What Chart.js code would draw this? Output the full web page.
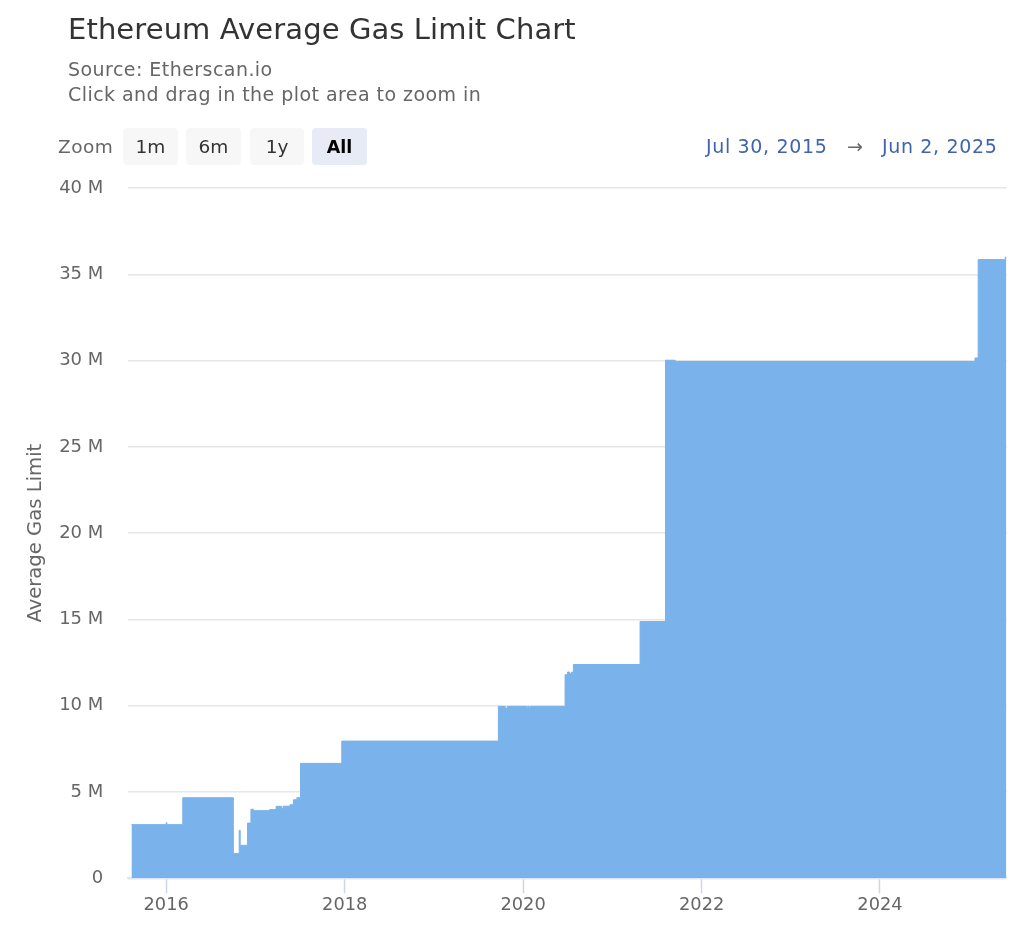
<!DOCTYPE html>
<html>
<head>
<meta charset="utf-8">
<title>Ethereum Average Gas Limit Chart</title>
<script src="https://cdn.jsdelivr.net/npm/chart.js@4"></script>
<style>
  html, body { margin:0; padding:0; background:#fff; }
  body { width:1024px; height:939px; position:relative; overflow:hidden;
         font-family:"DejaVu Sans",sans-serif; color:#666; }
  canvas { position:absolute; left:0; top:0; }
  .t { position:absolute; white-space:nowrap; line-height:1; }
  #title { left:68px; top:15px; font-size:29px; letter-spacing:.1px; color:#333; }
  #src { left:68px; top:60px; font-size:19px; letter-spacing:.45px; }
  #hint { left:68px; top:85px; font-size:19px; letter-spacing:.45px; }
  #zoomLbl { left:58px; top:138px; font-size:18.5px; letter-spacing:.5px; }
  .btn { position:absolute; top:128px; height:37px; line-height:38px; text-align:center;
         background:#f7f7f7; border-radius:4px; font-size:18.5px; color:#333; }
  .btn.on { background:#e6ebf5; color:#000; font-size:17.5px; font-weight:700; }
  .range { top:137px; font-size:19px; letter-spacing:.65px; color:#3f64ad; }
</style>
</head>
<body>
<canvas id="chart" width="1024" height="939"></canvas>
<div class="t" id="title">Ethereum Average Gas Limit Chart</div>
<div class="t" id="src">Source: Etherscan.io</div>
<div class="t" id="hint">Click and drag in the plot area to zoom in</div>
<div class="t" id="zoomLbl">Zoom</div>
<div class="btn" style="left:123px;width:55px">1m</div>
<div class="btn" style="left:186px;width:55px">6m</div>
<div class="btn" style="left:250px;width:54px">1y</div>
<div class="btn on" style="left:312px;width:55px">All</div>
<div class="t range" style="left:706px">Jul 30, 2015</div>
<div class="t range" style="left:847px;color:#666">→</div>
<div class="t range" style="left:882px">Jun 2, 2025</div>
<script>
"use strict";

const Y_TITLE = 'Average Gas Limit';
const X_START = '2015-07-30', X_END = '2025-06-02';
const TICK_YEARS = [2016, 2018, 2020, 2022, 2024];
const Y_TICKS = [0, 5, 10, 15, 20, 25, 30, 35, 40];

// each value holds from its date until the next one (millions of gas)
const dates = [
  '2015-08-12','2016-01-01','2016-01-04','2016-03-09','2016-10-02','2016-10-26','2016-10-30',
  '2016-11-29','2016-12-13','2016-12-23','2017-02-27','2017-03-26','2017-04-18','2017-04-24',
  '2017-05-22','2017-06-05','2017-06-19','2017-07-04','2017-12-20','2019-09-22','2019-10-20',
  '2019-10-28','2020-01-16','2020-01-20','2020-01-26','2020-01-30','2020-06-21','2020-07-01',
  '2020-07-10','2020-07-18','2020-07-25','2021-04-24','2021-08-06','2021-09-15','2025-01-24',
  '2025-02-06','2025-05-28','2025-06-02'
];
const gasLimits = [
  3.11, 3.22, 3.11, 4.67, 1.43, 2.78, 1.91,
  3.2, 4.0, 3.92, 3.98, 4.17, 4.05, 4.18,
  4.26, 4.55, 4.67, 6.66, 7.95, 9.96, 9.85,
  9.96, 9.85, 9.96, 9.85, 9.96, 11.8, 11.95,
  11.85, 11.95, 12.39, 14.88, 30.02, 29.95, 30.15,
  35.85, 36.0, 36.0
];

const C = {area:'#7ab2eb', grid:'#e6e6e6', axis:'#dfe5f2', tick:'#ccd6eb', label:'#666'};
const FONT = '"DejaVu Sans",sans-serif';
const ms = d => new Date(d + 'T00:00:00Z').getTime();
const points = dates.map((d, i) => ({x: ms(d), y: gasLimits[i] * 1e6}));

new Chart(document.getElementById('chart'), {
  type: 'line',
  data: {datasets: [{
    data: points, stepped: true, fill: 'origin', pointRadius: 0,
    backgroundColor: C.area, borderColor: C.area, borderWidth: 1,
  }]},
  options: {
    responsive: false, animation: false,
    layout: {padding: {top: 188, right: 17.5, left: 0, bottom: 0}},
    plugins: {legend: {display: false}, tooltip: {enabled: false}},
    scales: {
      x: {
        type: 'linear', min: ms(X_START), max: ms(X_END),
        afterBuildTicks: s => { s.ticks = TICK_YEARS.map(y => ({value: Date.UTC(y, 0, 1)})); },
        afterFit: s => { s.height = 60.7; },
        grid: {drawOnChartArea: false, drawTicks: true, tickLength: 15, tickColor: C.tick, tickWidth: 1.5},
        border: {color: C.axis, width: 2},
        ticks: {
          autoSkip: false, maxRotation: 0, padding: 1, color: C.label,
          font: {family: FONT, size: 17.8},
          callback: v => String(new Date(v).getUTCFullYear()),
        },
      },
      y: {
        min: 0, max: 40e6,
        afterBuildTicks: s => { s.ticks = Y_TICKS.map(v => ({value: v * 1e6})); },
        afterFit: s => { s.width = 128.3; },
        grid: {color: C.grid, lineWidth: 1.5, drawTicks: false},
        border: {display: false},
        title: {display: true, text: Y_TITLE, color: C.label, padding: {top: 24, bottom: 0},
                font: {family: FONT, size: 19.6}},
        ticks: {
          padding: 25, color: C.label, font: {family: FONT, size: 18},
          callback: v => v === 0 ? '0' : (v / 1e6) + ' M',
        },
      },
    },
  },
});
</script>
</body>
</html>
